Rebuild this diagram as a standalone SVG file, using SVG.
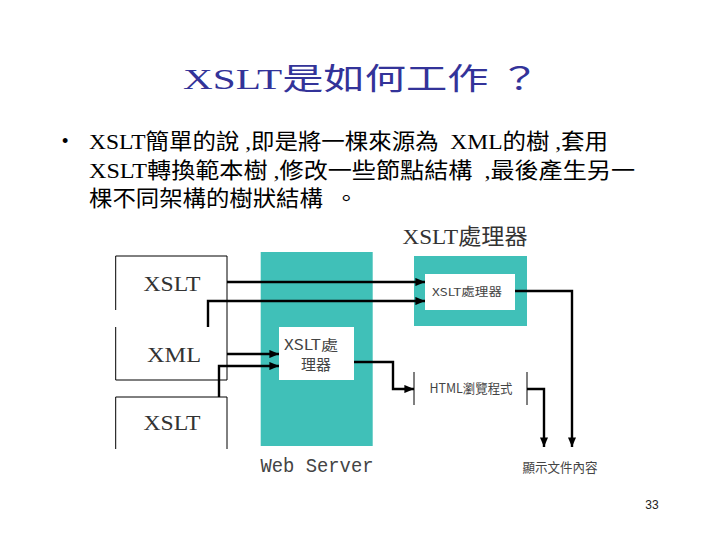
<svg xmlns="http://www.w3.org/2000/svg" width="720" height="540" viewBox="0 0 720 540">
<defs>
<style>
.title{font-family:"Liberation Serif","Noto Sans CJK TC",serif;font-size:30px;fill:#333399}
.body{font-family:"Liberation Serif","Noto Sans CJK TC",serif;font-size:22px;fill:#000;white-space:pre}
.lbl{font-family:"Liberation Serif","Noto Sans CJK TC",serif;fill:#333;text-anchor:middle}
.sm{font-family:"Noto Sans CJK TC","Liberation Sans",sans-serif;fill:#444;text-anchor:middle}
.box{fill:none;stroke:#000;stroke-width:1}
.teal{fill:#40c0b8}
.inner{fill:#fff}
.conn{fill:none;stroke:#000;stroke-width:2.4}
</style>
<marker id="ah" viewBox="0 0 10 10" refX="10" refY="5" markerWidth="4" markerHeight="3.4" markerUnits="strokeWidth" orient="auto" preserveAspectRatio="none">
<path d="M0,0 L10,5 L0,10 z" fill="#000"/>
</marker>
</defs>
<rect width="720" height="540" fill="#fff"/>

<text class="title" x="183" y="89" textLength="357" lengthAdjust="spacingAndGlyphs">XSLT是如何工作 ？</text>

<g id="bullet">
<text class="body" x="62" y="147" style="font-family:'Liberation Sans',sans-serif;font-size:18px">•</text>
<text class="body" x="89" y="149" textLength="519" lengthAdjust="spacingAndGlyphs">XSLT簡單的說 ,即是將一棵來源為  XML的樹 ,套用</text>
<text class="body" x="89" y="178" textLength="546" lengthAdjust="spacingAndGlyphs">XSLT轉換範本樹 ,修改一些節點結構  ,最後產生另一</text>
<text class="body" x="89" y="206" textLength="269" lengthAdjust="spacingAndGlyphs">棵不同架構的樹狀結構  。</text>
</g>

<g id="sources">
<path class="box" d="M115.7,310 V256 H227 V380 H115.7 V327"/>
<text class="lbl" x="172" y="291" font-size="22" textLength="57" lengthAdjust="spacingAndGlyphs">XSLT</text>
<text class="lbl" x="174" y="362" font-size="22" textLength="54" lengthAdjust="spacingAndGlyphs">XML</text>
</g>
<g id="source-xslt2">
<path class="box" d="M115.7,449 V397 H227 V449"/>
<text class="lbl" x="172" y="430" font-size="22" textLength="57" lengthAdjust="spacingAndGlyphs">XSLT</text>
</g>

<g id="web-server">
<rect class="teal" x="260.7" y="252" width="112" height="194"/>
<text class="lbl" x="317" y="472" font-size="20" textLength="113" lengthAdjust="spacingAndGlyphs" style="font-family:'Liberation Mono',monospace;fill:#444">Web Server</text>
</g>
<g id="server-processor">
<rect class="inner" x="279" y="327" width="75" height="53"/>
<text class="sm" x="311" y="350" font-size="14" textLength="54" lengthAdjust="spacingAndGlyphs">XSLT處</text>
<text class="sm" x="316" y="370" font-size="15">理器</text>
</g>

<g id="client-processor">
<text class="lbl" x="465" y="244" font-size="22" textLength="125" lengthAdjust="spacingAndGlyphs">XSLT處理器</text>
<rect class="teal" x="414" y="256" width="113" height="70"/>
<rect class="inner" x="425" y="274" width="90" height="36"/>
<text class="sm" x="467" y="296" font-size="11" textLength="70" lengthAdjust="spacingAndGlyphs">XSLT處理器</text>
</g>

<g id="browser">
<line class="box" x1="414" y1="372" x2="414" y2="405"/>
<line class="box" x1="527" y1="372" x2="527" y2="405"/>
<text class="sm" x="471" y="393" font-size="13" textLength="83" lengthAdjust="spacingAndGlyphs">HTML瀏覽程式</text>
</g>

<g id="output">
<text class="sm" x="560" y="472" font-size="13" textLength="75" lengthAdjust="spacingAndGlyphs">顯示文件內容</text>
</g>

<g id="connectors">
<path class="conn" d="M227,282 H425" marker-end="url(#ah)"/>
<path class="conn" d="M208,327 V301 H425" marker-end="url(#ah)"/>
<path class="conn" d="M227,354 H279" marker-end="url(#ah)"/>
<path class="conn" d="M219,397 V366 H279" marker-end="url(#ah)"/>
<path class="conn" d="M354,362 H393 V389 H414" marker-end="url(#ah)"/>
<path class="conn" d="M515,291 H572 V447" marker-end="url(#ah)"/>
<path class="conn" d="M527,389 H544 V447" marker-end="url(#ah)"/>
</g>

<text x="652" y="509" font-family="'Liberation Sans',sans-serif" font-size="12" fill="#222" text-anchor="middle">33</text>
</svg>
